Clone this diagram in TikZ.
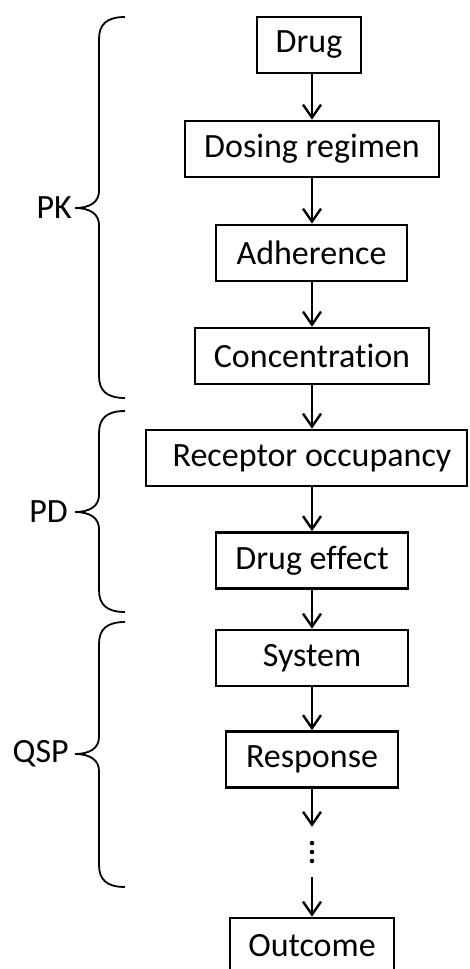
\documentclass[tikz,border=0pt]{standalone}
\usepackage{fontspec}
\setmainfont{Carlito}[Ligatures=NoCommon]
\usetikzlibrary{arrows.meta}
\newcommand\mybrace[3]{\draw[brace] (125,#1) .. controls (106,#1) and (99,#1+8) .. (99,#1+22) -- (99,#3-17) .. controls (99,#3-6) and (90,#3) .. (75,#3) .. controls (90,#3) and (99,#3+6) .. (99,#3+17) -- (99,#2-22) .. controls (99,#2-8) and (106,#2) .. (125,#2);}
\begin{document}
\begin{tikzpicture}[x=1pt,y=-1pt,
  box/.style={draw, line width=2.6pt, minimum height=56pt, inner sep=0pt, font=\fontsize{34}{40}\selectfont},
  lbl/.style={inner sep=0pt, anchor=east, font=\fontsize{34}{40}\selectfont},
  arr/.style={-{Straight Barb[length=13pt,width=18pt,line width=2.4pt]}, line width=2.4pt},
  brace/.style={line width=1.8pt}]
\useasboundingbox (0,0) rectangle (469,969);
\node[box, minimum width=104pt] (drug) at (309,45) {Drug};
\node[box, minimum width=254pt] (dose) at (312,149) {Dosing regimen};
\node[box, minimum width=191pt] (adh) at (311.5,253) {Adherence};
\node[box, minimum width=234pt] (conc) at (312,356) {Concentration};
\node[box, minimum width=321pt] (rec) at (306.5,458) {\hspace{11pt}Receptor occupancy};
\node[box, minimum width=192pt] (eff) at (312,560.5) {Drug effect};
\node[box, minimum width=192pt] (sys) at (312,658) {System};
\node[box, minimum width=172pt] (resp) at (312,759.5) {Response};
\node[inner sep=0pt, minimum height=50pt, minimum width=6pt] (dots) at (312,852) {};
\node[box, minimum width=164pt] (out) at (312,946) {Outcome};
\foreach \d in {-9,0,9} \fill ([yshift=\d pt]dots.center) circle (2.3pt);
\draw[arr] (dose.north |- drug.south) -- (dose.north);
\draw[arr] (dose.south) -- (adh.north -| dose.south);
\draw[arr] (conc.north |- adh.south) -- (conc.north);
\draw[arr] (conc.south) -- (rec.north -| conc.south);
\draw[arr] (eff.north |- rec.south) -- (eff.north);
\draw[arr] (eff.south) -- (sys.north);
\draw[arr] (sys.south) -- (resp.north);
\draw[arr] (resp.south) -- (dots.north);
\draw[arr] (dots.south) -- (out.north);
\mybrace{17}{398}{208}
\mybrace{411}{612}{512}
\mybrace{622}{887}{754}
\node[lbl] (pk) at (72,208) {PK};
\node[lbl] (pd) at (68,512) {PD};
\node[lbl] (qsp) at (69,754) {QSP};
\end{tikzpicture}
\end{document}
